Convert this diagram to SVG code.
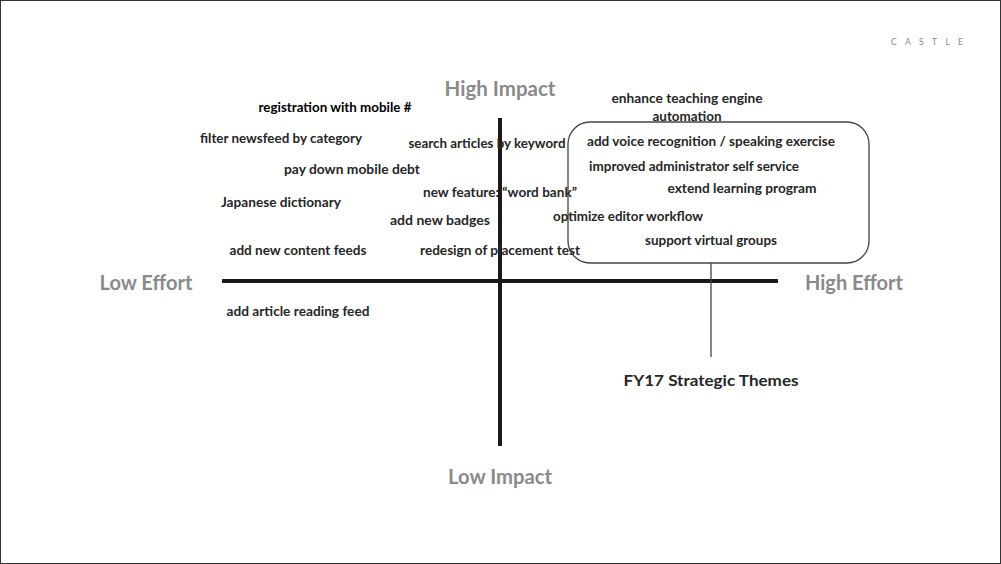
<svg xmlns="http://www.w3.org/2000/svg" width="1001" height="564" viewBox="0 0 1001 564">
<style>
.t{font-family:Lato,"Open Sans","Liberation Sans",sans-serif;font-weight:700;font-size:12.5px;fill:#262626;text-anchor:middle;dominant-baseline:central}
.ax{font-family:Lato,"Open Sans","Liberation Sans",sans-serif;font-weight:700;font-size:20px;fill:#8a8a8a;text-anchor:middle;dominant-baseline:central}
.axis{stroke:#1a1a1a;stroke-width:4;fill:none}
</style>
<rect x="0.5" y="0.5" width="1000" height="563" fill="#fff" stroke="#333" stroke-width="1"/>
<text x="891" y="42" font-family="Lato,'Liberation Sans',sans-serif" font-size="8.5" fill="#888" dominant-baseline="central" textLength="72" lengthAdjust="spacing">CASTLE</text>
<g id="connectors">
<line class="axis" x1="222" y1="281" x2="778" y2="281"/>
<line class="axis" x1="500" y1="118" x2="500" y2="446"/>
<line x1="711" y1="263" x2="711" y2="357" stroke="#444" stroke-width="1.3"/>
</g>
<g id="axis-labels">
<text class="ax" x="500" y="88" textLength="111" lengthAdjust="spacingAndGlyphs">High Impact</text>
<text class="ax" x="500" y="476" textLength="104" lengthAdjust="spacingAndGlyphs">Low Impact</text>
<text class="ax" x="146" y="282" textLength="93" lengthAdjust="spacingAndGlyphs">Low Effort</text>
<text class="ax" x="854" y="282" textLength="98" lengthAdjust="spacingAndGlyphs">High Effort</text>
</g>
<g id="themes">
<rect x="568" y="122" width="301" height="141" rx="22" fill="none" stroke="#444" stroke-width="1.3"/>
</g>
<g id="items">
<text class="t" x="335" y="107" textLength="153" lengthAdjust="spacingAndGlyphs" style="fill:#000">registration with mobile #</text>
<text class="t" x="281" y="138" textLength="162" lengthAdjust="spacingAndGlyphs">filter newsfeed by category</text>
<text class="t" x="487" y="143" textLength="157" lengthAdjust="spacingAndGlyphs">search articles by keyword</text>
<text class="t" x="352" y="169" textLength="136" lengthAdjust="spacingAndGlyphs">pay down mobile debt</text>
<text class="t" x="500" y="192" textLength="154" lengthAdjust="spacingAndGlyphs">new feature: “word bank”</text>
<text class="t" x="281" y="202" textLength="120" lengthAdjust="spacingAndGlyphs">Japanese dictionary</text>
<text class="t" x="440" y="220" textLength="100" lengthAdjust="spacingAndGlyphs">add new badges</text>
<text class="t" x="298" y="250" textLength="137" lengthAdjust="spacingAndGlyphs">add new content feeds</text>
<text class="t" x="500" y="250" textLength="160" lengthAdjust="spacingAndGlyphs">redesign of placement test</text>
<text class="t" x="298" y="311" textLength="143" lengthAdjust="spacingAndGlyphs">add article reading feed</text>
<text class="t" x="687" y="98" textLength="151" lengthAdjust="spacingAndGlyphs">enhance teaching engine</text>
<text class="t" x="687" y="116" textLength="69" lengthAdjust="spacingAndGlyphs">automation</text>
<text class="t" x="711" y="141" textLength="248" lengthAdjust="spacingAndGlyphs">add voice recognition / speaking exercise</text>
<text class="t" x="694" y="166" textLength="210" lengthAdjust="spacingAndGlyphs">improved administrator self service</text>
<text class="t" x="742" y="188" textLength="149" lengthAdjust="spacingAndGlyphs">extend learning program</text>
<text class="t" x="628" y="216" textLength="150" lengthAdjust="spacingAndGlyphs">optimize editor workflow</text>
<text class="t" x="711" y="240" textLength="132" lengthAdjust="spacingAndGlyphs">support virtual groups</text>
</g>
<g id="theme-label">
<text class="t" x="711" y="379" textLength="175" lengthAdjust="spacingAndGlyphs" style="font-size:16px">FY17 Strategic Themes</text>
</g>
</svg>
